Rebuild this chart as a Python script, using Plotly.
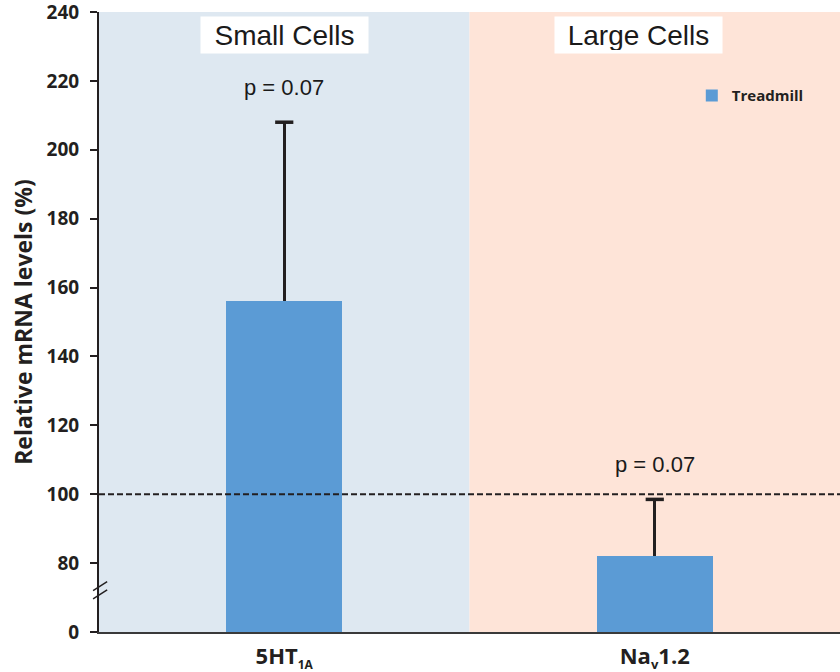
import plotly.graph_objects as go

categories = ["5HT<sub><span style='font-size:12px'>1A</span></sub>",
              "Na<sub><span style='font-size:13px'>v</span></sub>1.2"]
values = [156, 82]
errors_up = [52, 16.5]
p_labels = ["p = 0.07", "p = 0.07"]
region_labels = ["Small Cells", "Large Cells"]
tick_vals = [60, 80, 100, 120, 140, 160, 180, 200, 220, 240]
tick_text = ["0", "80", "100", "120", "140", "160", "180", "200", "220", "240"]
reference_level = 100

BAR = "#5B9BD5"
DARK = "#231F20"
FONT = "Liberation Sans, Arial, sans-serif"
BOLD = "Open Sans, sans-serif"

xpos = [0, 1]
tops = [v + e for v, e in zip(values, errors_up)]

fig = go.Figure()
fig.add_trace(go.Bar(
    x=xpos, y=values, name="Treadmill", width=0.314,
    marker=dict(color=BAR, line=dict(width=0)),
    error_y=dict(type="data", symmetric=False, array=errors_up, arrayminus=[0, 0],
                 color=DARK, thickness=3, width=0),
    showlegend=True,
))
# error bar caps (top only)
fig.add_trace(go.Scatter(
    x=xpos, y=tops, mode="markers", showlegend=False, hoverinfo="skip",
    marker=dict(symbol="line-ew", size=13, line=dict(color=DARK, width=3.5)),
))

# background regions
fig.add_shape(type="rect", xref="x", yref="paper", x0=-0.5, x1=0.5, y0=0, y1=1,
              fillcolor="#DEE8F1", line=dict(width=0), layer="below")
fig.add_shape(type="rect", xref="x", yref="paper", x0=0.5, x1=1.5, y0=0, y1=1,
              fillcolor="#FEE4D8", line=dict(width=0), layer="below")

# reference dashed line
fig.add_shape(type="line", xref="paper", yref="y", x0=0, x1=1, y0=reference_level, y1=reference_level,
              line=dict(color=DARK, width=2, dash="6px,3px"), layer="above")

# axis break marks
for dy in (0, 2.4):
    fig.add_shape(type="line", xref="paper", yref="y", x0=-0.008, x1=0.011,
                  y0=69.6 + dy, y1=72.2 + dy, line=dict(color=DARK, width=1.5))

# region labels
region_x = [0, 0.957]
for rx, lab in zip(region_x, region_labels):
    fig.add_annotation(x=rx, y=233.3, xref="x", yref="y", text=lab, showarrow=False,
                       font=dict(family=FONT, size=28, color="#1a1a1a"),
                       bgcolor="white", borderpad=3, width=161, height=30)

# p values
for xi, t, lab in zip(xpos, tops, p_labels):
    fig.add_annotation(x=xi, y=t + 10.2, xref="x", yref="y", text=lab, showarrow=False,
                       font=dict(family=FONT, size=22, color="#1a1a1a"))

fig.update_layout(
    width=840, height=672,
    margin=dict(l=99, r=0, t=12, b=40),
    paper_bgcolor="white", plot_bgcolor="white",
    bargap=0,
    legend=dict(x=0.80, y=0.865, xanchor="left", yanchor="middle",
                bgcolor="rgba(0,0,0,0)", font=dict(family=BOLD, size=15, color=DARK, weight="bold")),
    xaxis=dict(range=[-0.5, 1.5], tickvals=xpos, ticktext=categories, showgrid=False,
               zeroline=False, showline=True, linecolor="#3a3a3a", linewidth=2, ticks="",
               ticklabelstandoff=4, automargin=False,
               tickfont=dict(family=BOLD, size=22, color=DARK, weight="bold")),
    yaxis=dict(range=[60, 240], tickvals=tick_vals, ticktext=tick_text, showgrid=False,
               zeroline=False, showline=True, linecolor=DARK, linewidth=2,
               ticks="outside", ticklen=7, tickwidth=2, tickcolor=DARK,
               ticklabelstandoff=7, ticklabeloverflow="allow", automargin=False,
               tickfont=dict(family=BOLD, size=19, color=DARK, weight="bold"),
               title=dict(text="Relative mRNA levels (%)", standoff=8,
                          font=dict(family=BOLD, size=23, color=DARK, weight="bold"))),
)

fig.write_html("out.html")
